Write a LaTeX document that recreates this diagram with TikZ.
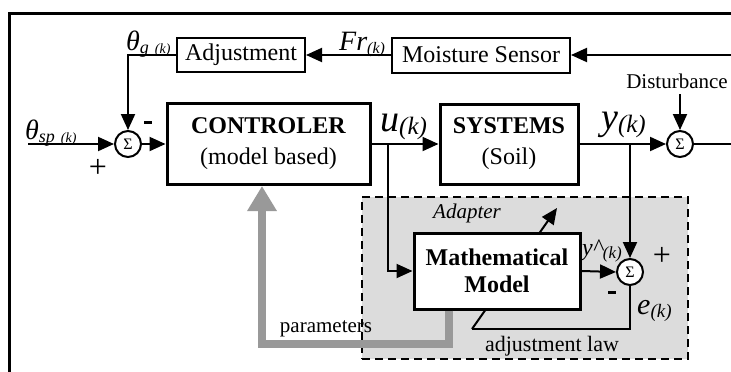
\documentclass[tikz,border=0pt]{standalone}
\usepackage{fontspec}
\setmainfont{Liberation Serif}
\usetikzlibrary{arrows.meta,calc}
\definecolor{bgcol}{RGB}{220,220,220}
\definecolor{parcol}{RGB}{153,153,153}
\newcommand{\minusbar}{\rule[0pt]{8pt}{3pt}}
\begin{document}
\begin{tikzpicture}[x=1pt,y=-1pt,
  font=\fontsize{24}{28}\selectfont,
  wire/.style={line width=2pt},
  sig/.style={wire,-{Triangle[length=16pt,width=14pt]}},
  thinbox/.style={draw,line width=2pt,fill=white,inner sep=0pt},
  bigbox/.style={draw,line width=3pt,fill=white,inner sep=0pt,align=center},
  sumnode/.style={circle,draw,line width=2pt,fill=white,minimum size=26pt,inner sep=0pt,font=\fontsize{16}{16}\selectfont},
  lbl/.style={inner sep=0pt},
  parline/.style={line width=8pt,draw=parcol,-{Triangle[length=25pt,width=28pt]}},
]
\useasboundingbox (0,0) rectangle (731,372);

% outer frame (cropped)
\coordinate (fr1) at (9,372);
\coordinate (fr2) at (9,13);
\coordinate (fr3) at (731,13);
\draw[line width=3pt] (fr1) -- (fr2) -- (fr3);

% adapter region
\node[draw,line width=2.6pt,dash pattern=on 8pt off 5pt,fill=bgcol,
      minimum width=326pt,minimum height=162pt,inner sep=0pt] (adapt) at (525,278) {};

% sum 3 and adjustment law (behind model)
\node[sumnode] (s3) at (630,272) {Σ};
\coordinate (al1) at (472,329);
\coordinate (al2) at (557,208);
\draw[wire] (s3.south) |- (al1);
\draw[sig] (al1) -- (al2);

% mathematical model
\node[bigbox,minimum width=166pt,minimum height=76pt,font=\fontsize{24}{27}\selectfont\bfseries] (mm) at (497,271) {Mathematical\\Model};

% main blocks
\node[thinbox,minimum width=128pt,minimum height=34pt] (adj) at (241,55) {Adjustment};
\node[thinbox,minimum width=178pt,minimum height=35pt] (ms) at (481,55) {Moisture Sensor};
\node[bigbox,minimum width=203pt,minimum height=81pt,font=\fontsize{24}{31}\selectfont] (ctrl) at (268.5,144) {\textbf{CONTROLER}\\(model based)};
\node[bigbox,minimum width=138pt,minimum height=80pt,font=\fontsize{24}{31}\selectfont] (sys) at (509,144) {\textbf{SYSTEMS}\\(Soil)};
\node[sumnode] (s1) at (128,144) {Σ};
\node[sumnode] (s2) at (680,144) {Σ};

% parameters feedback (gray)
\coordinate (gx) at (449,344);
\coordinate (gc) at (262,344);
\draw[parline] (mm.south -| gx) -- (gx) -- (gc) -- (ctrl.south -| gc);

% signal connectors
\coordinate (in) at (28,144);
\draw[sig] (in) -- (s1.west);
\draw[sig] (s1.east) -- (ctrl.west);
\draw[sig] (ctrl.east) -- (sys.west);
\draw[sig] (sys.east) -- (s2.west);
\coordinate (out) at (731,144);
\draw[wire] (s2.east) -- (out);
\coordinate (fbin) at (731,55);
\draw[sig] (fbin) -- (ms.east);
\draw[sig] (ms.west) -- (adj.east);
\draw[sig] (adj.west) -| (s1.north);
\coordinate (bu) at (388,144);
\draw[sig] (bu) |- (mm.west);
\coordinate (by) at (630,144);
\draw[sig] (by) -- (s3.north);
\draw[sig] (mm.east) -- (s3.west);
\coordinate (d0) at (680,94);
\draw[sig] (d0) -- (s2.north);

% labels
\node[lbl,anchor=base] (dist) at (677,88) {\fontsize{21}{21}\selectfont Disturbance};
\node[lbl,anchor=base west] (thg) at (126,50) {\itshape\fontsize{28}{28}\selectfont θ\raisebox{-3pt}{\fontsize{18}{18}\selectfont g\hspace{6pt}\fontsize{14}{14}\selectfont(k)}};
\node[lbl,anchor=base west] (fr) at (339,50) {\itshape\fontsize{28}{28}\selectfont Fr\raisebox{-3pt}{\fontsize{16}{16}\selectfont(k)}};
\node[lbl,anchor=base west] (thsp) at (25,139) {\itshape\fontsize{28}{28}\selectfont θ\raisebox{-3pt}{\fontsize{18}{18}\selectfont sp\hspace{6pt}\fontsize{14}{14}\selectfont(k)}};
\node[lbl] (p1) at (98,168) {\fontsize{32}{32}\selectfont +};
\node[lbl] (m1) at (148,122) {\minusbar};
\node[lbl,anchor=base west] (ul) at (380,131) {\itshape\fontsize{38}{38}\selectfont u\raisebox{-3pt}{\fontsize{25}{25}\selectfont(k)}};
\node[lbl,anchor=base west] (yl) at (601,129) {\itshape\fontsize{38}{38}\selectfont y\raisebox{-3pt}{\fontsize{25}{25}\selectfont(k)}};
\node[lbl,anchor=base west] (yh) at (582,255) {\itshape\fontsize{24}{24}\selectfont y\textasciicircum\raisebox{-3pt}{\fontsize{17}{17}\selectfont(k)}};
\node[lbl] (p3) at (662,256) {\fontsize{32}{32}\selectfont +};
\node[lbl] (m3) at (612,292) {\minusbar};
\node[lbl,anchor=base west] (el) at (637,314) {\itshape\fontsize{30}{30}\selectfont e\raisebox{-3pt}{\fontsize{19}{19}\selectfont(k)}};
\node[lbl] (adl) at (467,213) {\itshape\fontsize{21}{21}\selectfont Adapter};
\node[lbl,anchor=base] (ajl) at (552,351) {\fontsize{22}{22}\selectfont adjustment law};
\node[lbl,anchor=base] (par) at (326,332) {\fontsize{21}{21}\selectfont parameters};
\end{tikzpicture}
\end{document}
